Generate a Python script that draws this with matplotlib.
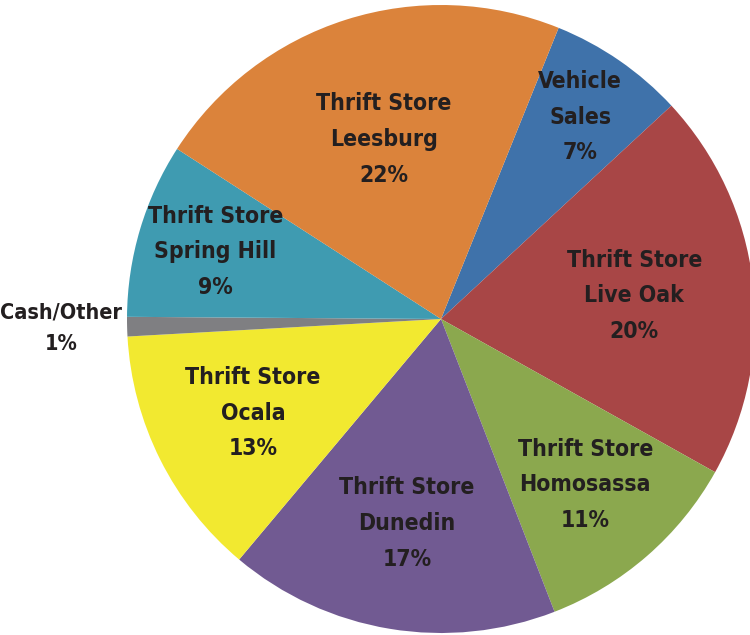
import numpy as np
import matplotlib.pyplot as plt

labels = ['Vehicle\nSales', 'Thrift Store\nLive Oak', 'Thrift Store\nHomosassa',
          'Thrift Store\nDunedin', 'Thrift Store\nOcala', 'Cash/Other',
          'Thrift Store\nSpring Hill', 'Thrift Store\nLeesburg']
values = [7, 20, 11, 17, 13, 1, 9, 22]
colors = ['#3f72aa', '#a84646', '#8ba84e', '#715a92', '#f2e930',
          '#7f7f82', '#3f9bb1', '#db833b']
# how far out each label sits, as a fraction of the radius
label_r = [0.78, 0.62, 0.70, 0.66, 0.67, 1.21, 0.75, 0.60]

plt.rcParams['font.family'] = ['DejaVu Sans']

fig = plt.figure(figsize=(7.5, 6.35), dpi=100)
ax = fig.add_axes([0, 0, 1, 1])
wedges, _ = ax.pie(values, colors=colors, startangle=68, counterclock=False,
                   radius=1.0, wedgeprops=dict(linewidth=0))
ax.set_xlim(-441 / 314, (750 - 441) / 314)
ax.set_ylim(-(635 - 319) / 314, 319 / 314)
ax.set_aspect('equal')
ax.axis('off')

for w, lab, v, r in zip(wedges, labels, values, label_r):
    ang = np.deg2rad((w.theta1 + w.theta2) / 2)
    fs = 15.5 if v == 1 else 16.5
    ax.text(r * np.cos(ang), r * np.sin(ang), f'{lab}\n{v}%',
            ha='center', va='center', fontsize=fs, fontweight='bold',
            fontstretch='condensed', color='#231f20', linespacing=1.7)

fig.savefig('out.png', dpi=100)
